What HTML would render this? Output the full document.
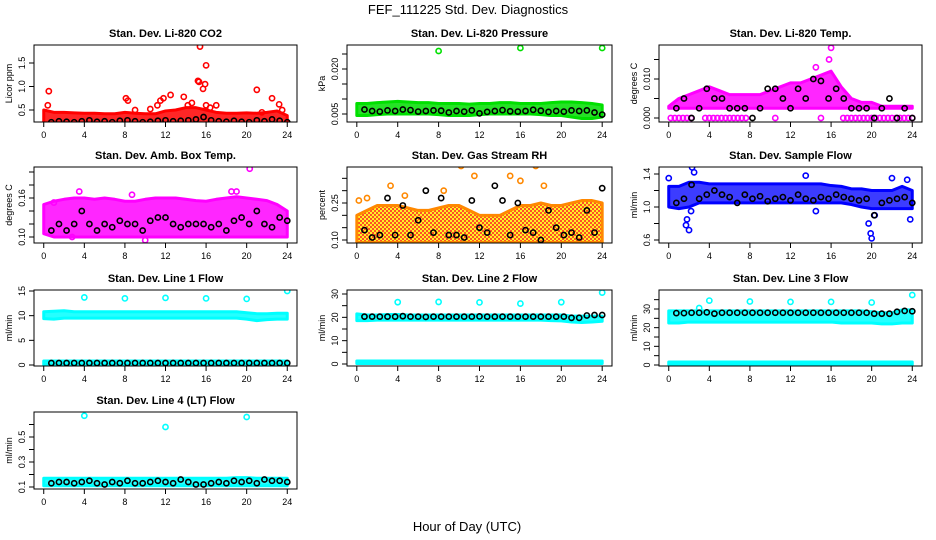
<!DOCTYPE html>
<html><head><meta charset="utf-8"><style>
html,body{margin:0;padding:0;background:#fff;}
svg{display:block;font-family:"Liberation Sans",sans-serif;}
</style></head><body>
<svg id="chart" width="936" height="540" viewBox="0 0 936 540">
<defs>
<pattern id="rhpat" width="4" height="4" patternUnits="userSpaceOnUse">
<rect width="4" height="4" fill="#ffee00"/><rect width="2" height="2" fill="#ff3300"/><rect x="2" y="2" width="2" height="2" fill="#ff3300"/>
</pattern>
</defs>
<text x="468" y="14" text-anchor="middle" font-size="13">FEF_111225  Std. Dev. Diagnostics</text>
<text x="467" y="531" text-anchor="middle" font-size="13">Hour of Day (UTC)</text>
</svg>
<script>
const xTickLabels=["0","4","8","12","16","20","24"];
const xTickVals=[0,4,8,12,16,20,24];
const bandHours=[0,1,2,3,4,5,6,7,8,9,10,11,12,13,14,15,16,17,18,19,20,21,22,23,24];

const p1BandLo=[0.2,0.2,0.2,0.2,0.2,0.2,0.2,0.2,0.2,0.2,0.2,0.2,0.2,0.2,0.2,0.2,0.2,0.2,0.2,0.2,0.2,0.2,0.2,0.2,0.2];
const p1BandHi=[0.5,0.45,0.45,0.44,0.43,0.43,0.42,0.42,0.45,0.43,0.42,0.42,0.48,0.5,0.55,0.55,0.5,0.45,0.43,0.43,0.44,0.43,0.45,0.48,0.38];
const p1OutX=[0.5,0.4,8.1,8.3,9,10.5,11.2,11.5,11.8,12.5,13.8,14.2,14.6,15.2,15.3,15.4,15.7,15.9,16,16,16.4,17,21,21.5,22.5,23.2,23.5,24];
const p1OutY=[0.9,0.6,0.75,0.7,0.5,0.52,0.6,0.7,0.75,0.82,0.78,0.6,0.65,1.12,1.1,1.85,0.95,1.05,1.45,0.6,0.55,0.6,0.93,0.45,0.75,0.62,0.5,0.2];
const p1Black=[0.24,0.26,0.25,0.24,0.26,0.28,0.25,0.26,0.24,0.27,0.28,0.26,0.24,0.25,0.27,0.28,0.26,0.27,0.28,0.30,0.35,0.28,0.26,0.25,0.27,0.25,0.24,0.28,0.26,0.30,0.27,0.24];

const p2BandLo=[0.0045,0.0045,0.0048,0.005,0.005,0.005,0.005,0.005,0.0048,0.0045,0.0045,0.0045,0.0048,0.005,0.005,0.005,0.005,0.005,0.0048,0.0045,0.0045,0.004,0.0035,0.0035,0.004];
const p2BandHi=[0.0085,0.0085,0.0088,0.009,0.0092,0.009,0.0088,0.0088,0.0085,0.0085,0.0085,0.0083,0.0085,0.0085,0.0088,0.0088,0.0085,0.0085,0.0085,0.0088,0.009,0.009,0.0088,0.0085,0.008];
const p2OutX=[8,16,24];
const p2OutY=[0.026,0.027,0.027];
const p2Black=[0.0065,0.006,0.0058,0.0062,0.006,0.0065,0.0063,0.0058,0.006,0.0062,0.0061,0.0055,0.006,0.0058,0.0062,0.0052,0.0057,0.006,0.0063,0.0059,0.0058,0.006,0.0064,0.0061,0.0057,0.006,0.0058,0.0062,0.006,0.0062,0.0055,0.0048];

const p3BandLo=[0.0025,0.0025,0.0025,0.0025,0.0025,0.0025,0.0025,0.0025,0.0025,0.0025,0.0025,0.0025,0.0025,0.0025,0.0025,0.0025,0.0025,0.0025,0.0025,0.0025,0.0025,0.0025,0.0025,0.0025,0.0025];
const p3BandHi=[0.003,0.005,0.006,0.007,0.008,0.007,0.006,0.006,0.006,0.006,0.007,0.008,0.009,0.009,0.01,0.011,0.012,0.008,0.005,0.004,0.004,0.003,0.003,0.003,0.003];
const p3OutX=[0.2,0.6,1,1.4,1.8,2.2,3.6,4,4.4,4.8,5.2,5.6,6,6.4,6.8,7.2,7.6,10.5,15,17.2,17.6,18,18.4,18.8,19.2,19.6,20,20.4,20.8,21.2,21.6,22,22.4,22.8,23.2,23.6,24,16,14.5,15.8];
const p3OutY=[0,0,0,0,0,0,0,0,0,0,0,0,0,0,0,0,0,0,0,0,0,0,0,0,0,0,0,0,0,0,0,0,0,0,0,0,0,0.018,0.013,0.015];
const p3Black=[0.0025,0.005,0,0.0025,0.0075,0.005,0.005,0.0025,0.0025,0.0025,0,0.0025,0.0075,0.0075,0.005,0.0025,0.0075,0.005,0.01,0.0095,0.005,0.0075,0.005,0.0025,0.0025,0.0025,0,0.0025,0.005,0,0.0025,0];

const p4BandLo=[0.105,0.1,0.1,0.1,0.1,0.1,0.1,0.1,0.1,0.1,0.1,0.1,0.1,0.1,0.1,0.1,0.1,0.1,0.1,0.1,0.1,0.1,0.1,0.1,0.1];
const p4BandHi=[0.15,0.155,0.158,0.16,0.16,0.158,0.16,0.158,0.155,0.155,0.158,0.16,0.16,0.16,0.158,0.156,0.155,0.158,0.16,0.162,0.16,0.158,0.156,0.15,0.14];
const p4OutX=[20.3,1,3.5,19,10,2.8,8.7,18.5];
const p4OutY=[0.205,0.153,0.17,0.17,0.095,0.10,0.165,0.17];
const p4Black=[0.11,0.12,0.11,0.12,0.14,0.12,0.11,0.12,0.115,0.125,0.12,0.12,0.11,0.125,0.13,0.13,0.12,0.115,0.12,0.12,0.12,0.115,0.12,0.11,0.125,0.13,0.12,0.14,0.12,0.115,0.13,0.125];

const p5BandLo=[0.09,0.09,0.09,0.09,0.09,0.09,0.09,0.09,0.09,0.09,0.09,0.09,0.09,0.09,0.09,0.09,0.09,0.09,0.09,0.09,0.09,0.09,0.09,0.09,0.09];
const p5BandHi=[0.2,0.22,0.24,0.24,0.24,0.23,0.22,0.22,0.23,0.24,0.24,0.22,0.2,0.2,0.2,0.22,0.24,0.24,0.25,0.24,0.24,0.25,0.26,0.26,0.25];
const p5OutX=[0.2,5.3,13.5,3.3,10.2,11.5,15,16,18.3,17.5,4.7,1,8.5];
const p5OutY=[0.26,0.44,0.42,0.32,0.40,0.36,0.36,0.34,0.32,0.40,0.28,0.27,0.30];
const p5Black=[0.14,0.11,0.12,0.27,0.12,0.24,0.12,0.18,0.3,0.13,0.27,0.12,0.12,0.11,0.26,0.15,0.13,0.32,0.26,0.12,0.25,0.14,0.13,0.1,0.22,0.15,0.12,0.13,0.11,0.22,0.13,0.31];

const p6BandLo=[1.0,0.98,1.0,1.05,1.05,1.05,1.05,1.05,1.05,1.05,1.05,1.05,1.05,1.05,1.05,1.05,1.05,1.05,1.03,1.0,0.98,0.98,0.98,0.98,0.98];
const p6BandHi=[1.25,1.25,1.3,1.3,1.28,1.28,1.28,1.28,1.28,1.28,1.28,1.28,1.28,1.28,1.28,1.28,1.26,1.25,1.22,1.22,1.2,1.2,1.2,1.25,1.2];
const p6OutX=[0,2,1.8,2.2,2.3,2.5,1.7,19.7,19.9,20,20.3,23.8,14.5,13.5,22,23.5];
const p6OutY=[1.35,0.72,0.85,0.95,1.48,1.42,0.78,0.8,0.68,0.62,0.9,0.85,0.95,1.38,1.35,1.33];
const p6Black=[1.05,1.1,1.27,1.1,1.15,1.2,1.15,1.12,1.05,1.15,1.1,1.13,1.07,1.1,1.12,1.08,1.15,1.1,1.08,1.12,1.1,1.15,1.12,1.1,1.08,1.1,0.9,1.05,1.08,1.1,1.12,1.05];

const p7BandLo=[9.4,9.3,9.5,9.5,9.5,9.5,9.5,9.5,9.5,9.5,9.5,9.5,9.5,9.5,9.5,9.5,9.5,9.5,9.5,9.5,9.3,9.0,9.2,9.3,9.3];
const p7BandHi=[10.8,10.9,11.0,10.8,10.8,10.8,10.8,10.8,10.8,10.8,10.8,10.8,10.8,10.8,10.8,10.8,10.8,10.8,10.8,10.8,10.6,10.4,10.4,10.5,10.5];
const p7Low2Lo=[0.1,0.1,0.1,0.1,0.1,0.1,0.1,0.1,0.1,0.1,0.1,0.1,0.1,0.1,0.1,0.1,0.1,0.1,0.1,0.1,0.1,0.1,0.1,0.1,0.1];
const p7Low2Hi=[0.8,0.8,0.8,0.8,0.8,0.8,0.8,0.8,0.8,0.8,0.8,0.8,0.8,0.8,0.8,0.8,0.8,0.8,0.8,0.8,0.8,0.8,0.8,0.8,0.8];
const p7OutX=[4,8,12,16,20,24];
const p7OutY=[13.7,13.5,13.6,13.5,13.4,15];
const p7Black=[0.4,0.4,0.4,0.4,0.4,0.4,0.4,0.4,0.4,0.4,0.4,0.4,0.4,0.4,0.4,0.4,0.4,0.4,0.4,0.4,0.4,0.4,0.4,0.4,0.4,0.4,0.4,0.4,0.4,0.4,0.4,0.4];

const p8BandLo=[18.6,18.6,18.8,18.8,18.8,18.8,18.8,18.8,18.8,18.8,18.8,18.8,18.8,18.8,18.8,18.8,18.8,18.8,18.8,18.6,18.5,18.0,17.8,18.0,18.3];
const p8BandHi=[21.5,21.0,21.0,21.2,21.2,21.0,21.0,21.0,21.0,21.0,21.0,21.0,21.0,21.0,21.0,21.0,21.0,21.0,21.0,21.0,21.0,20.5,20.5,20.5,20.5];
const p8Low2Lo=[0.2,0.2,0.2,0.2,0.2,0.2,0.2,0.2,0.2,0.2,0.2,0.2,0.2,0.2,0.2,0.2,0.2,0.2,0.2,0.2,0.2,0.2,0.2,0.2,0.2];
const p8Low2Hi=[1.3,1.3,1.3,1.3,1.3,1.3,1.3,1.3,1.3,1.3,1.3,1.3,1.3,1.3,1.3,1.3,1.3,1.3,1.3,1.3,1.3,1.3,1.3,1.3,1.3];
const p8OutX=[4,8,12,16,20,24];
const p8OutY=[26.5,26.6,26.4,25.9,26.5,30.6];
const p8Black=[20.3,20.3,20.3,20.3,20.3,20.5,20.3,20.3,20.2,20.3,20.3,20.3,20.3,20.3,20.3,20.4,20.3,20.3,20.3,20.3,20.3,20.3,20.3,20.3,20.3,20.3,20.3,19.8,19.8,20.8,21,21];

const p9BandLo=[22.5,22.5,23,23,23,23,23,23,23,23,23,23,23,23,23,23,23,22.5,22.5,22.5,22.5,22,22,22.5,22.5];
const p9BandHi=[29,29,29,29,29,29,29,29,29,29,29,29,29,29,29,29,29,29,29,29,28.5,28,28,29.5,29.5];
const p9Low2Lo=[0.3,0.3,0.3,0.3,0.3,0.3,0.3,0.3,0.3,0.3,0.3,0.3,0.3,0.3,0.3,0.3,0.3,0.3,0.3,0.3,0.3,0.3,0.3,0.3,0.3];
const p9Low2Hi=[1.6,1.6,1.6,1.6,1.6,1.6,1.6,1.6,1.6,1.6,1.6,1.6,1.6,1.6,1.6,1.6,1.6,1.6,1.6,1.6,1.6,1.6,1.6,1.6,1.6];
const p9OutX=[4,8,12,16,20,24,3];
const p9OutY=[34.5,34,33.8,33.8,33.5,37.5,30.5];
const p9Black=[27.8,27.8,28,28,28.2,27.5,28,28,28,28,28,28,28,28,28,28,28,28,28,28,28,28,28,28,28,28,27.5,27.5,27.5,28.5,29,28.8];

const p10BandLo=[0.11,0.11,0.11,0.11,0.11,0.11,0.11,0.11,0.11,0.11,0.11,0.11,0.11,0.11,0.11,0.11,0.11,0.11,0.11,0.11,0.11,0.11,0.11,0.11,0.11];
const p10BandHi=[0.17,0.17,0.17,0.17,0.17,0.17,0.17,0.17,0.17,0.17,0.17,0.17,0.17,0.17,0.17,0.17,0.17,0.17,0.17,0.175,0.175,0.17,0.17,0.17,0.17];
const p10OutX=[4,12,20];
const p10OutY=[0.67,0.58,0.66];
const p10Black=[0.13,0.14,0.14,0.13,0.14,0.15,0.13,0.12,0.14,0.13,0.15,0.13,0.13,0.14,0.15,0.14,0.13,0.16,0.14,0.12,0.12,0.13,0.14,0.13,0.15,0.14,0.15,0.13,0.16,0.15,0.15,0.14];

const panelTitles=["Stan. Dev. Li-820 CO2","Stan. Dev. Li-820 Pressure","Stan. Dev. Li-820 Temp.","Stan. Dev. Amb. Box Temp.","Stan. Dev. Gas Stream RH","Stan. Dev. Sample Flow","Stan. Dev. Line 1 Flow","Stan. Dev. Line 2 Flow","Stan. Dev. Line 3 Flow","Stan. Dev. Line 4 (LT) Flow"];
const yTitles=["Licor ppm","kPa","degrees C","degrees C","percent","ml/min","ml/min","ml/min","ml/min","ml/min"];

const colX=[[34,297],[347,612],[659,922]];
const rowY=[[45,122],[167,243],[290,366],[412,489]];

const panels=[
 {c:0,r:0,ref:[0.5,110,1.5,63],ticks:[0.5,1.0,1.5],labs:["0.5","1.0","1.5"],col:"#ff0000",fill:"#ff0000",bands:[[p1BandLo,p1BandHi]],ox:p1OutX,oy:p1OutY,blk:p1Black},
 {c:1,r:0,ref:[0.005,114,0.020,69],ticks:[0.005,0.01,0.015,0.02,0.025],labs:["0.005","","","0.020",""],col:"#00e000",fill:"#00dd00",bands:[[p2BandLo,p2BandHi]],ox:p2OutX,oy:p2OutY,blk:p2Black},
 {c:2,r:0,ref:[0,118,0.01,79],ticks:[0,0.005,0.01,0.015],labs:["0.000","","0.010",""],col:"#ff00ff",fill:"#ff00ff",bands:[[p3BandLo,p3BandHi]],ox:p3OutX,oy:p3OutY,blk:p3Black},
 {c:0,r:1,ref:[0.10,237,0.16,198],ticks:[0.1,0.12,0.14,0.16,0.18,0.2],labs:["0.10","","","0.16","",""],col:"#ff00ff",fill:"#ff00ff",bands:[[p4BandLo,p4BandHi]],ox:p4OutX,oy:p4OutY,blk:p4Black},
 {c:1,r:1,ref:[0.10,240,0.25,203],ticks:[0.1,0.15,0.2,0.25,0.3,0.35],labs:["0.10","","","0.25","",""],col:"#ff8800",fill:"url(#rhpat)",bands:[[p5BandLo,p5BandHi]],ox:p5OutX,oy:p5OutY,blk:p5Black},
 {c:2,r:1,ref:[0.6,240,1.4,174],ticks:[0.6,0.8,1.0,1.2,1.4],labs:["0.6","","1.0","","1.4"],col:"#0000ff",fill:"#1a1aff",bands:[[p6BandLo,p6BandHi]],ox:p6OutX,oy:p6OutY,blk:p6Black},
 {c:0,r:2,ref:[0,365,15,291],ticks:[0,5,10,15],labs:["0","5","10","15"],col:"#00ffff",fill:"#00ffff",bands:[[p7BandLo,p7BandHi],[p7Low2Lo,p7Low2Hi]],ox:p7OutX,oy:p7OutY,blk:p7Black},
 {c:1,r:2,ref:[0,364,30,294],ticks:[0,5,10,15,20,25,30],labs:["0","","10","","20","","30"],col:"#00ffff",fill:"#00ffff",bands:[[p8BandLo,p8BandHi],[p8Low2Lo,p8Low2Hi]],ox:p8OutX,oy:p8OutY,blk:p8Black},
 {c:2,r:2,ref:[0,365,30,309],ticks:[0,5,10,15,20,25,30,35],labs:["0","","10","","20","","30",""],col:"#00ffff",fill:"#00ffff",bands:[[p9BandLo,p9BandHi],[p9Low2Lo,p9Low2Hi]],ox:p9OutX,oy:p9OutY,blk:p9Black},
 {c:0,r:3,ref:[0.1,487,0.5,437],ticks:[0.1,0.2,0.3,0.4,0.5,0.6],labs:["0.1","","0.3","","0.5",""],col:"#00ffff",fill:"#00ffff",bands:[[p10BandLo,p10BandHi]],ox:p10OutX,oy:p10OutY,blk:p10Black}
];
const NS="http://www.w3.org/2000/svg";
const svg=document.getElementById('chart');
function mk(tag,attrs,parent){const e=document.createElementNS(NS,tag);for(const k in attrs)e.setAttribute(k,attrs[k]);(parent||svg).appendChild(e);return e;}

panels.forEach((p,i)=>{
 const [x0,x1]=colX[p.c],[y0,y1]=rowY[p.r];
 const g=mk('g',{});
 
 
 const pad=(x1-x0)*0.04/1.08;
 const xs=h=>x0+pad+(h/24)*(x1-x0-2*pad);
 const ys=v=>p.ref[1]+(v-p.ref[0])*(p.ref[3]-p.ref[1])/(p.ref[2]-p.ref[0]);
 const t=mk('text',{x:(x0+x1)/2,y:y0-8,'text-anchor':'middle','font-size':'11','font-weight':'bold'},g);
 t.textContent=panelTitles[i];
 
 
 const cp=mk('clipPath',{id:'cp'+i},g);
 mk('rect',{x:x0,y:y0,width:x1-x0,height:y1-y0},cp);
 const plot=mk('g',{'clip-path':'url(#cp'+i+')'},g);
 p.bands.forEach(b=>{
  let pts=[];
  bandHours.forEach((h,k)=>pts.push(xs(h)+','+ys(b[1][k])));
  for(let k=bandHours.length-1;k>=0;k--)pts.push(xs(bandHours[k])+','+ys(b[0][k]));
  const poly=mk('polygon',{points:pts.join(' '),fill:p.fill,'fill-opacity':'0.85',stroke:p.col,'stroke-width':'3','stroke-linejoin':'round'},plot);
  
  
 });
 p.ox.forEach((h,k)=>{
  const c=mk('circle',{cx:xs(h),cy:ys(p.oy[k]),r:2.6,fill:'none',stroke:p.col,'stroke-width':'1.6'},plot);
  
  
 });
 p.blk.forEach((v,k)=>{
  const c=mk('circle',{cx:xs(0.75*(k+1)),cy:ys(v),r:2.6,fill:'none',stroke:'#000','stroke-width':'1.6'},plot);
  
  
 });
 const box=mk('rect',{x:x0,y:y0,width:x1-x0,height:y1-y0,fill:'none',stroke:'#000','stroke-width':'1'},g);
 
 
 xTickVals.forEach((h,k)=>{
  mk('line',{x1:xs(h),x2:xs(h),y1:y1,y2:y1+5,stroke:'#000'},g);
  const tl=mk('text',{x:xs(h),y:y1+16,'text-anchor':'middle','font-size':'9'},g);
  tl.textContent=xTickLabels[k];
  
  
 });
 p.ticks.forEach((v,k)=>{
  const yy=ys(v);
  if(yy<y0-1||yy>y1+1)return;
  mk('line',{x1:x0-5,x2:x0,y1:yy,y2:yy,stroke:'#000'},g);
  if(p.labs[k]){
   const tl=mk('text',{x:x0-9,y:yy,'text-anchor':'middle','font-size':'9',transform:'rotate(-90 '+(x0-9)+' '+yy+')'},g);
   tl.textContent=p.labs[k];
   
   
  }
 });
 const yt=mk('text',{x:x0-22,y:(y0+y1)/2,'text-anchor':'middle','font-size':'9',transform:'rotate(-90 '+(x0-22)+' '+((y0+y1)/2)+')'},g);
 yt.textContent=yTitles[i];
 
 
});
</script>
</body></html>
